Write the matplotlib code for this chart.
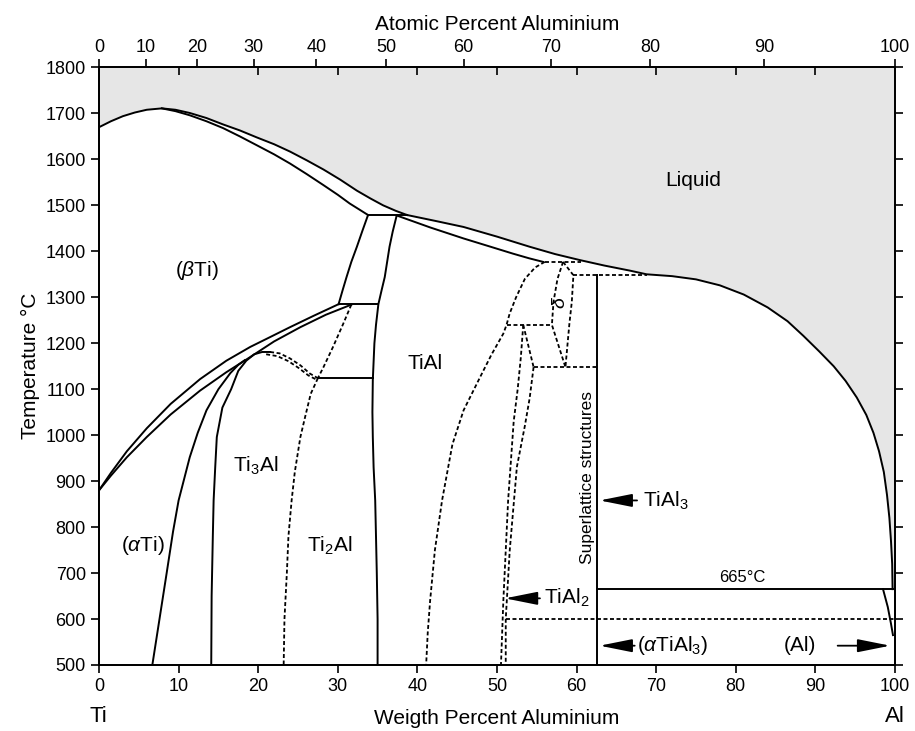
import numpy as np
import matplotlib
matplotlib.use("Agg")
import matplotlib.pyplot as plt

plt.rcParams.update(
    {
        "font.family": ["Liberation Sans", "DejaVu Sans"],
        "mathtext.fontset": "custom",
        "mathtext.rm": "Liberation Sans",
        "mathtext.it": "Liberation Sans:italic",
        "font.size": 13,
        "axes.linewidth": 1.3,
    }
)

# phase boundaries, (wt.% Al, temperature in °C)
liquidus_ti = [(0, 1670), (1.5, 1683), (3.0, 1694), (4.5, 1702), (6.0, 1708), (7.9, 1711),
               (9.6, 1708), (11.4, 1701), (13.5, 1690), (15.6, 1676), (17.7, 1663), (19.8, 1648),
               (22.0, 1633), (24.0, 1617), (26.1, 1598), (28.2, 1578), (30.3, 1556),
               (32.4, 1532), (34.1, 1515), (35.7, 1500), (37.3, 1488), (38.7, 1479)]
liquidus_al = [(38.7, 1479), (42.3, 1466), (45.8, 1453), (50.0, 1432), (54.1, 1410), (57.3, 1394),
               (60.4, 1381), (63.5, 1369), (66.7, 1358), (68.8, 1350), (72.0, 1346), (75.0, 1339),
               (78.0, 1326), (81.0, 1306), (84.0, 1278), (86.5, 1248), (88.5, 1216), (90.5, 1182),
               (92.3, 1150), (93.8, 1118), (95.2, 1082), (96.4, 1044), (97.3, 1005), (98.0, 965),
               (98.6, 920), (99.0, 870), (99.3, 820), (99.5, 770), (99.65, 720), (99.7, 665)]
solidus_beta = [(7.9, 1711), (9.6, 1705), (11.4, 1696), (13.5, 1683), (15.6, 1668), (17.7, 1650),
                (19.8, 1631), (22.0, 1611), (24.0, 1591), (26.1, 1568), (28.2, 1544),
                (30.0, 1523), (31.5, 1504), (32.7, 1491), (33.8, 1479)]
solidus_tial = [(37.4, 1478), (41.6, 1452), (45.8, 1428), (49.0, 1411), (52.0, 1395),
                (54.0, 1385), (55.8, 1377)]
beta_alpha_peritectic = [(33.8, 1479), (33.1, 1445), (32.4, 1410), (31.7, 1377), (31.1, 1344),
                         (30.6, 1315), (30.1, 1285)]
alpha_tial = [(37.4, 1478), (36.9, 1443), (36.5, 1410), (36.2, 1377), (35.9, 1344), (35.5, 1315),
              (35.1, 1285), (34.8, 1240), (34.6, 1200), (34.4, 1120), (34.35, 1050), (34.4, 996),
              (34.5, 930), (34.7, 858), (34.8, 780), (34.9, 700), (35.0, 600), (35.0, 500)]
beta_transus = [(0, 880), (1.5, 918), (3.5, 965), (6.0, 1015), (9.0, 1068), (12.7, 1122),
                (16.0, 1162), (19.0, 1192), (21.1, 1210), (24.0, 1235), (27.0, 1260), (30.1, 1285)]
alpha_beta = [(0, 880), (1.5, 912), (3.5, 952), (6.0, 996), (9.0, 1045), (12.7, 1097),
              (16.0, 1137), (19.0, 1170), (22.0, 1204), (25.3, 1235), (28.5, 1262), (31.7, 1284)]
alpha_ti = [(6.7, 500), (7.6, 600), (8.5, 700), (9.3, 790), (10.0, 858), (11.4, 952),
            (12.4, 1005), (13.5, 1054), (15.0, 1100), (16.5, 1135), (17.5, 1153), (18.3, 1163)]
ti3al = [(14.1, 500), (14.15, 650), (14.3, 780), (14.4, 858), (14.6, 930), (14.8, 996),
         (15.5, 1060), (16.6, 1100), (17.5, 1140), (18.5, 1162), (19.5, 1176), (20.5, 1181),
         (21.5, 1181)]
ti3al_top_a = [(21.5, 1181), (22.7, 1178), (24.0, 1167), (25.3, 1152), (26.5, 1134), (27.5, 1124)]
ti3al_top_b = [(21.0, 1176), (22.4, 1172), (23.8, 1161), (25.1, 1146), (26.3, 1130), (27.3, 1121)]
ti2al_upper = [(31.7, 1284), (30.7, 1243), (29.4, 1192), (28.2, 1148), (27.5, 1124)]
ti2al_lower = [(27.5, 1124), (26.6, 1090), (25.9, 1040), (25.3, 996), (24.6, 920), (24.2, 858),
               (23.8, 780), (23.6, 700), (23.3, 600), (23.2, 500)]
tial_al_side = [(56.0, 1377), (54.8, 1365), (53.5, 1340), (52.4, 1300), (51.6, 1265), (51.2, 1240),
                (50.8, 1221), (49.3, 1175), (47.9, 1127), (45.8, 1054), (44.4, 980), (43.1, 858),
                (42.2, 750), (41.6, 640), (41.3, 570), (41.1, 500)]
tial2_left = [(53.3, 1240), (53.0, 1170), (52.6, 1100), (52.1, 1030), (51.4, 858), (50.8, 640),
              (50.5, 500)]
tial2_link = [(53.3, 1240), (54.6, 1148)]
tial2_right = [(54.6, 1148), (54.1, 1080), (53.5, 1020), (52.5, 931), (51.6, 749), (51.1, 600),
               (51.1, 500)]
delta_left = [(58.3, 1377), (57.6, 1340), (57.1, 1290), (56.9, 1240), (58.6, 1148)]
delta_right = [(58.3, 1377), (59.6, 1348), (59.4, 1290), (59.1, 1243), (58.6, 1148)]
al_solvus = [(98.5, 665), (99.1, 626), (99.5, 590), (99.75, 565)]

# horizontal reactions: (T, x_start, x_end)
solid_isotherms = [(1479, 33.8, 38.7), (1285, 30.1, 35.1), (1124, 27.5, 34.4), (665, 62.6, 99.7)]
dashed_isotherms = [(1377, 56.0, 60.6), (1348, 59.6, 68.8), (1240, 51.2, 56.9),
                    (1148, 54.6, 62.6), (600, 51.1, 100)]
tial3_x = 62.6
tial3_top = 1348

atomic_ticks = [0, 10, 20, 30, 40, 50, 60, 70, 80, 90, 100]
wt_ticks = list(range(0, 101, 10))
temp_ticks = list(range(500, 1801, 100))

M_AL, M_TI = 26.98, 47.87


def at_to_wt(a):
    a = np.asarray(a, dtype=float)
    return 100 * a * M_AL / (a * M_AL + (100 - a) * M_TI)


def draw(ax, pts, dashed=False):
    x, y = zip(*pts)
    if dashed:
        ax.plot(x, y, color="k", lw=1.3, ls=(0, (2.2, 1.4)), solid_capstyle="butt")
    else:
        ax.plot(x, y, color="k", lw=1.4, solid_joinstyle="round")


fig = plt.figure(figsize=(9.15, 7.31), dpi=100)
ax = fig.add_axes([0.1082, 0.0903, 0.8699, 0.8174])
ax.set_xlim(0, 100)
ax.set_ylim(500, 1800)

# liquid field
liq = liquidus_ti + liquidus_al[1:]
lx, ly = zip(*liq)
ax.fill(list(lx) + [100, 100, 0], list(ly) + [665, 1800, 1800], color="#e6e6e6", lw=0, zorder=0)

for curve in [liquidus_ti, liquidus_al, solidus_beta, solidus_tial, beta_alpha_peritectic,
              alpha_tial, beta_transus, alpha_beta, alpha_ti, ti3al, al_solvus]:
    draw(ax, curve)
for curve in [ti3al_top_a, ti3al_top_b, ti2al_upper, ti2al_lower, tial_al_side, tial2_left,
              tial2_link, tial2_right, delta_left, delta_right]:
    draw(ax, curve, dashed=True)
for t, x0, x1 in solid_isotherms:
    draw(ax, [(x0, t), (x1, t)])
for t, x0, x1 in dashed_isotherms:
    draw(ax, [(x0, t), (x1, t)], dashed=True)
draw(ax, [(tial3_x, tial3_top), (tial3_x, 500)])

# phase labels
ax.text(74.6, 1553, "Liquid", fontsize=15, ha="center", va="center")
ax.text(12.3, 1359, r"($\it{\beta}$Ti)", fontsize=15, ha="center", va="center")
ax.text(41.0, 1157, "TiAl", fontsize=15, ha="center", va="center")
ax.text(19.7, 934, r"Ti$_3$Al", fontsize=15, ha="center", va="center")
ax.text(29.0, 760, r"Ti$_2$Al", fontsize=15, ha="center", va="center")
ax.text(5.5, 760, r"($\it{\alpha}$Ti)", fontsize=15, ha="center", va="center")
ax.text(58.0, 1289, r"$\it{\delta}$", fontsize=14, ha="center", va="center", rotation=90)
ax.text(61.4, 908, "Superlattice structures", fontsize=12.5, ha="center", va="center",
        rotation=90)
ax.text(80.8, 690, "665°C", fontsize=12, ha="center", va="center")

arrow = dict(arrowstyle="-|>,head_length=1.0,head_width=0.2", color="k", lw=1.3,
             shrinkA=0, shrinkB=0, mutation_scale=20)
ax.annotate("", xy=(62.9, 858), xytext=(67.6, 858), arrowprops=arrow)
ax.text(68.3, 858, r"TiAl$_3$", fontsize=15, ha="left", va="center")
ax.annotate("", xy=(51.0, 645), xytext=(55.4, 645), arrowprops=arrow)
ax.text(55.9, 645, r"TiAl$_2$", fontsize=15, ha="left", va="center")
ax.annotate("", xy=(62.9, 542), xytext=(67.3, 542), arrowprops=arrow)
ax.text(67.6, 542, r"($\it{\alpha}$TiAl$_3$)", fontsize=15, ha="left", va="center")
ax.text(88.1, 542, "(Al)", fontsize=15, ha="center", va="center")
ax.annotate("", xy=(99.4, 542), xytext=(92.8, 542), arrowprops=arrow)

# axes and ticks
ax.set_xticks(wt_ticks)
ax.set_yticks(temp_ticks)
ax.tick_params(axis="both", which="major", direction="out", length=6, width=1.2, labelsize=13)
ax.tick_params(axis="y", right=True, labelright=False)
ax.tick_params(axis="x", top=False)
ax.set_xlabel("Weigth Percent Aluminium", fontsize=15, labelpad=10)
ax.set_ylabel("Temperature °C", fontsize=15, labelpad=4)
ax.text(-0.012, -0.087, "Ti", transform=ax.transAxes, fontsize=16, ha="left", va="center")
ax.text(1.012, -0.087, "Al", transform=ax.transAxes, fontsize=16, ha="right", va="center")

ax2 = ax.twiny()
ax2.set_xlim(0, 100)
ax2.set_xticks(at_to_wt(atomic_ticks))
ax2.set_xticklabels([str(a) for a in atomic_ticks])
ax2.set_xticks(wt_ticks, minor=True)
ax2.tick_params(axis="x", which="major", direction="out", length=6, width=1.2, labelsize=13, pad=2)
ax2.tick_params(axis="x", which="minor", direction="in", length=6, width=1.2)
ax2.set_xlabel("Atomic Percent Aluminium", fontsize=15, labelpad=7)

fig.savefig("out.png", dpi=100)
